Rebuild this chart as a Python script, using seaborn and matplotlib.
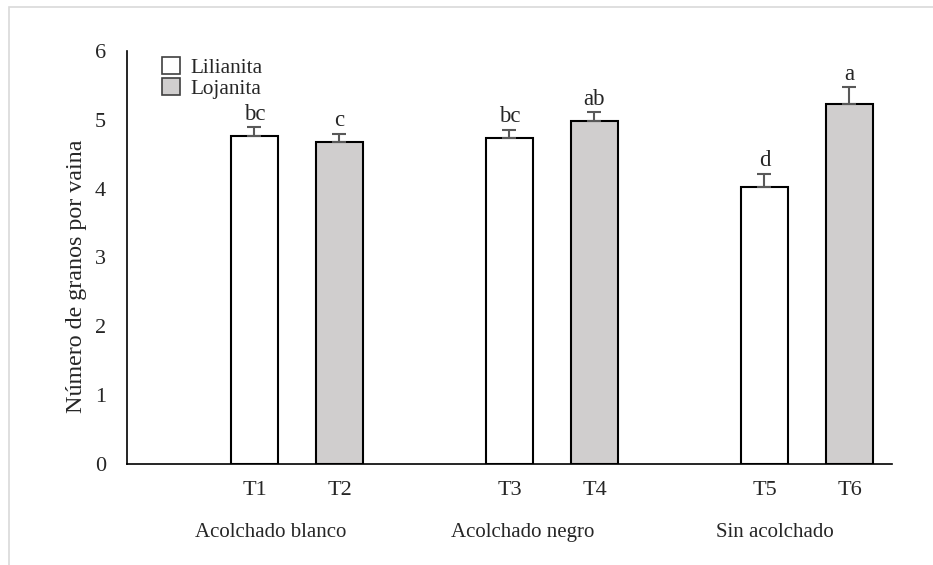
import numpy as np
import pandas as pd
import seaborn as sns
import matplotlib.pyplot as plt
from matplotlib.patches import Patch, Rectangle

# values
tratamientos = ['T1', 'T2', 'T3', 'T4', 'T5', 'T6']
variedades = ['Lilianita', 'Lojanita', 'Lilianita', 'Lojanita', 'Lilianita', 'Lojanita']
granos = [4.77, 4.68, 4.74, 4.98, 4.03, 5.23]
error = [0.12, 0.12, 0.11, 0.13, 0.18, 0.24]
letras = ['bc', 'c', 'bc', 'ab', 'd', 'a']
grupos = ['Acolchado blanco', 'Acolchado negro', 'Sin acolchado']

# empty slots leave the gaps between the groups
orden = ['', 'T1', 'T2', ' ', 'T3', 'T4', '  ', 'T5', 'T6']
colores = {'Lilianita': 'white', 'Lojanita': '#D0CECE'}

df = pd.DataFrame({'trt': tratamientos, 'variedad': variedades, 'granos': granos})

sns.set_style('white')
plt.rcParams['font.family'] = ['Liberation Serif', 'DejaVu Serif']

fig = plt.figure(figsize=(9.33, 5.65), dpi=100)
ax = fig.add_axes([0.1361, 0.1788, 0.8199, 0.7309])

sns.barplot(data=df, x='trt', y='granos', hue='variedad', order=orden,
            palette=colores, dodge=False, width=0.56, edgecolor='black',
            linewidth=1.5, legend=False, ax=ax)

pos = [orden.index(t) for t in tratamientos]
ax.errorbar(pos, granos, yerr=[np.zeros(len(error)), error], fmt='none',
            ecolor='#595959', elinewidth=1.5, capsize=5, capthick=1.5, zorder=3)
for x, y, e, l in zip(pos, granos, error, letras):
    ax.text(x, y + e + 0.04, l, ha='center', va='bottom', fontsize=16.5)

ax.set_ylim(0, 6)
ax.set_xlim(-0.5, 8.5)
ax.set_yticks(range(7))
ax.set_xlabel('')
ax.set_ylabel('Número de granos por vaina', fontsize=17.3)
ax.yaxis.set_label_coords(-0.052, 0.455)
ax.tick_params(axis='both', length=0, labelsize=16)
ax.tick_params(axis='x', pad=12)
ax.tick_params(axis='y', pad=15)
for s in ['top', 'right']:
    ax.spines[s].set_visible(False)
for s in ['left', 'bottom']:
    ax.spines[s].set_color('black')
    ax.spines[s].set_linewidth(1.2)

for x, g in zip([1.19, 4.16, 7.12], grupos):
    ax.text(x, -0.99, g, ha='center', va='center', fontsize=15)

handles = [Patch(facecolor=colores[v], edgecolor='#404040', linewidth=1.2, label=v)
           for v in ['Lilianita', 'Lojanita']]
ax.legend(handles=handles, loc='upper left', bbox_to_anchor=(0.0345, 1.005),
          frameon=False, fontsize=15.3, handlelength=0.85, handleheight=0.85,
          handletextpad=0.5, labelspacing=0.0, borderaxespad=0)

# light frame around the chart area
fig.patches.append(Rectangle((9 / 933, -0.05), 1.1, 1 - 7 / 565 + 0.05,
                             transform=fig.transFigure, fill=False,
                             edgecolor='#D9D9D9', linewidth=1.2))

fig.savefig('out.png', dpi=100)
